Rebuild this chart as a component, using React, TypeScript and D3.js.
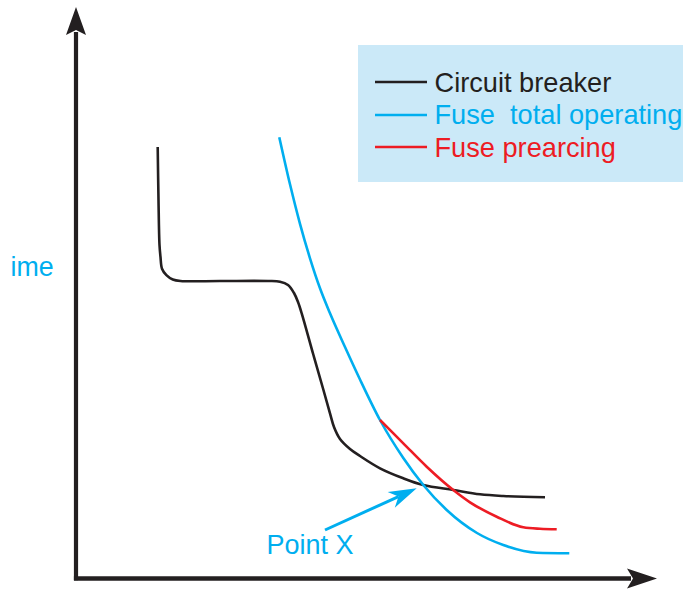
import React from 'react';
import * as d3 from 'd3';

const W = 683;
const H = 594;

// Circuit breaker curve (current, time) in nominal units
const breakerCurrent = [16.34, 16.5, 16.7, 16.9, 17.2, 18.08, 19.36, 20.9, 28.8, 38.4, 40.8, 42.4, 43.6, 44.4, 45.14, 47.46, 49.46, 50.8, 51.6, 52.8, 54.8, 56.8, 60.8, 65.46, 69.46, 75.46, 80.8, 85.46, 93.8];
const breakerTime = [86.2, 75.6, 66.6, 64.2, 61.86, 60.58, 59.7, 59.4, 59.4, 59.4, 59.26, 58.6, 57.0, 55.2, 52.94, 44.7, 37.7, 32.94, 30.2, 27.8, 25.8, 24.4, 21.94, 19.94, 18.6, 17.6, 16.74, 16.4, 16.14];

// Fuse total operating curve
const fuseTotalCurrent = [40.66, 42.8, 44.8, 46.8, 48.8, 50.8, 53.8, 56.8, 60.8, 65.46, 69.46, 74.14, 80.2, 85.46, 92.14, 98.66];
const fuseTotalTime = [88.14, 78.74, 70.84, 63.94, 57.94, 52.94, 46.2, 39.7, 31.6, 24.0, 18.6, 13.6, 9.0, 6.6, 5.06, 4.94];

// Fuse prearcing curve
const fusePreCurrent = [60.8, 65.46, 70.14, 75.46, 78.8, 84.14, 89.46, 92.8, 96.14];
const fusePreTime = [31.6, 26.94, 22.26, 17.6, 15.14, 12.26, 10.14, 9.84, 9.74];

// Legend / labels
const legendLabels = ['Circuit breaker', 'Fuse  total operating', 'Fuse prearcing'];
const legendColors = ['#231f20', '#00aeef', '#ed1c24'];
const yLabel = 'ime';
const pointLabel = 'Point X';
// Point X arrow: from (current, time) to (current, time)
const pointArrowFrom = [49.8, 9.6];
const pointArrowTo = [68.14, 17.94];

const xScale = d3.scaleLinear().domain([0, 116]).range([76, 656]);
const yScale = d3.scaleLinear().domain([0, 114]).range([578, 8]);

const X_MAX = 116.2;
const Y_MAX = 114.2;

function headPoints(x1: number, y1: number, x2: number, y2: number, len: number, half: number, notch: number) {
  const dx = x2 - x1, dy = y2 - y1;
  const L = Math.sqrt(dx * dx + dy * dy);
  const ux = dx / L, uy = dy / L;
  const px = -uy, py = ux;
  const bx = x2 - ux * len, by = y2 - uy * len;
  const nx = x2 - ux * notch, ny = y2 - uy * notch;
  return {
    points: [
      [x2, y2],
      [bx + px * half, by + py * half],
      [nx, ny],
      [bx - px * half, by - py * half],
    ].map(p => p.join(',')).join(' '),
    notch: [nx, ny],
  };
}

export default function App() {
  const makeLine = (curve: d3.CurveFactory) =>
    d3
      .line<[number, number]>()
      .x(d => xScale(d[0]))
      .y(d => yScale(d[1]))
      .curve(curve);

  const series = [
    { c: breakerCurrent, t: breakerTime, color: legendColors[0], curve: d3.curveCatmullRom.alpha(0.5) },
    { c: fuseTotalCurrent, t: fuseTotalTime, color: legendColors[1], curve: d3.curveMonotoneX },
    { c: fusePreCurrent, t: fusePreTime, color: legendColors[2], curve: d3.curveMonotoneX },
  ];

  const x0 = xScale(0);
  const y0 = yScale(0);
  const xTip = xScale(X_MAX);
  const yTip = yScale(Y_MAX);

  const yHead = headPoints(x0, y0, x0, yTip, 28, 10, 23);
  const xHead = headPoints(x0, y0 + 0.5, xTip, y0 + 0.5, 30, 10, 24);

  const ax1 = xScale(pointArrowFrom[0]);
  const ay1 = yScale(pointArrowFrom[1]);
  const ax2 = xScale(pointArrowTo[0]);
  const ay2 = yScale(pointArrowTo[1]);
  const pHead = headPoints(ax1, ay1, ax2, ay2, 28, 8.6, 20);

  const font = '"Liberation Sans", Arial, sans-serif';

  return (
    <svg
      width={W}
      height={H}
      style={{ position: 'absolute', left: 0, top: 0, background: '#ffffff' }}
      fontFamily={font}
    >
      {/* Legend */}
      <rect x={358} y={45} width={340} height={137} fill="#cbe9f8" />
      {legendLabels.map((lab, i) => {
        const baseY = [92, 124, 157][i];
        const lineY = [82, 115, 147][i];
        return (
          <g key={lab}>
            <line x1={375} x2={427} y1={lineY} y2={lineY} stroke={legendColors[i]} strokeWidth={2.5} />
            <text x={434.5} y={baseY} fontSize={27.2} fill={legendColors[i]} style={{ whiteSpace: 'pre' }}>
              {lab}
            </text>
          </g>
        );
      })}

      {/* Curves */}
      {series.map((s, i) => (
        <path
          key={i}
          d={makeLine(s.curve)(s.c.map((c, j) => [c, s.t[j]] as [number, number])) || ''}
          fill="none"
          stroke={s.color}
          strokeWidth={2.6}
          strokeLinecap="butt"
        />
      ))}

      {/* Axes */}
      <line x1={x0} x2={x0} y1={y0 + 2.3} y2={yHead.notch[1] + 2} stroke="#231f20" strokeWidth={4.2} />
      <polygon points={yHead.points} fill="#231f20" />
      <line x1={x0 - 2.1} x2={xHead.notch[0] - 2} y1={y0 + 0.5} y2={y0 + 0.5} stroke="#231f20" strokeWidth={4.4} />
      <polygon points={xHead.points} fill="#231f20" />

      {/* Labels */}
      <text x={10.5} y={276} fontSize={26.8} fill="#00aeef">{yLabel}</text>
      <text x={266.5} y={554} fontSize={27} fill="#00aeef">{pointLabel}</text>

      {/* Point X arrow */}
      <line x1={ax1} y1={ay1} x2={pHead.notch[0]} y2={pHead.notch[1]} stroke="#00aeef" strokeWidth={3} />
      <polygon points={pHead.points} fill="#00aeef" />
    </svg>
  );
}
